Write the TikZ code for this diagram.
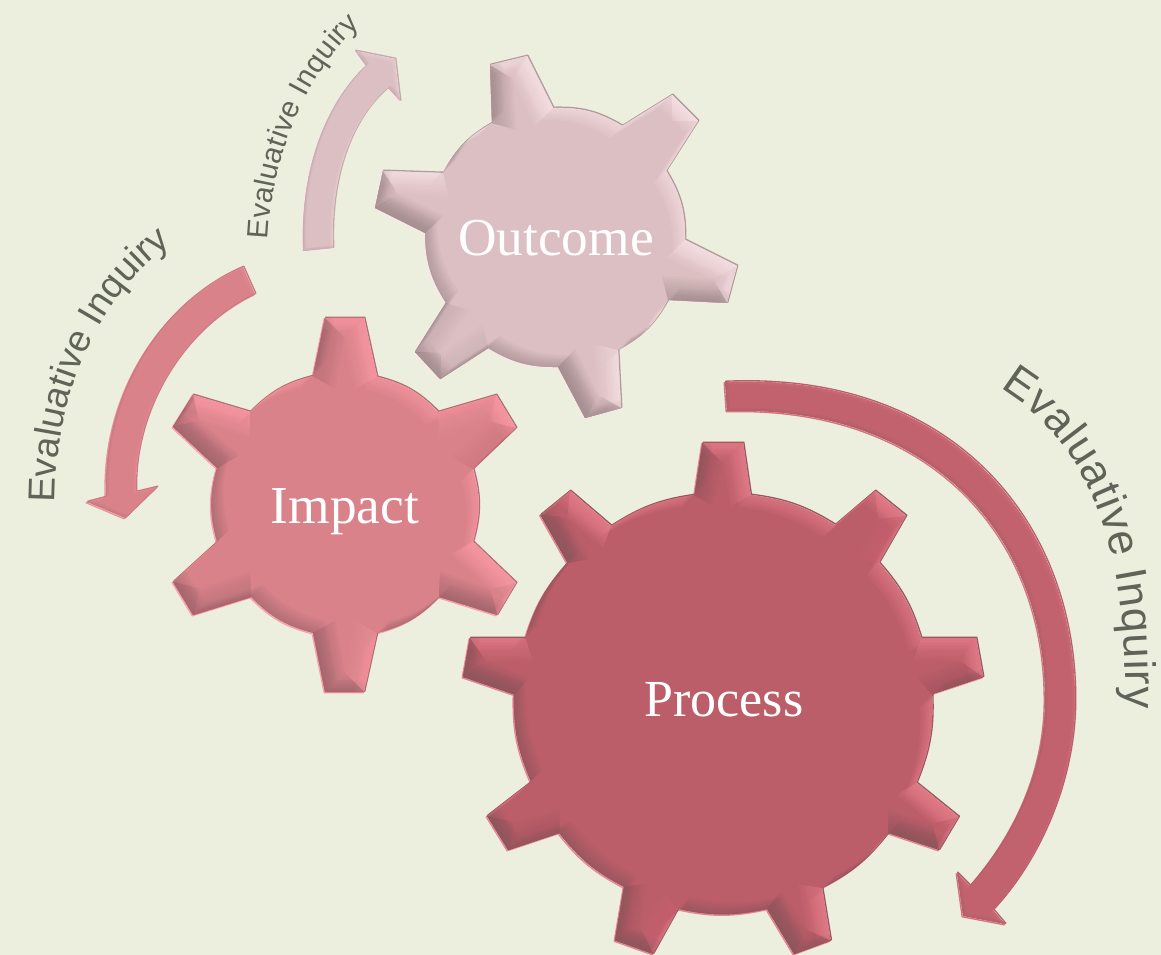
\documentclass[tikz,border=0pt]{standalone}
\usepackage{fontspec}
\setmainfont{Liberation Serif}
\newfontfamily\arrowfont{Liberation Sans}
\usetikzlibrary{decorations.text,calc}
\definecolor{bgc}{HTML}{ECEFDE}
\definecolor{txc}{HTML}{5F6358}
\definecolor{oFace}{HTML}{DCBFC2}\definecolor{oLight}{HTML}{FBE6E9}\definecolor{oDark}{HTML}{A08A8C}
\definecolor{iFace}{HTML}{D9828A}\definecolor{iLight}{HTML}{FF9DA8}\definecolor{iDark}{HTML}{A0666C}
\definecolor{pFace}{HTML}{BC5E69}\definecolor{pLight}{HTML}{EC8290}\definecolor{pDark}{HTML}{8A565C}
\definecolor{aFace}{HTML}{C2626E}
\tikzset{gearlabel/.style={text=white,inner sep=0pt,font=\fontsize{40pt}{44pt}\selectfont}}
\def\gearO{(492,123) -- (490,65) -- (527,56) -- (553,108) to[bend left=16] (622,126) -- (672,95) -- (698,121) -- (666,171) to[bend left=16] (685,240) -- (737,266) -- (727,303) -- (668,300) to[bend left=16] (618,350) -- (621,408) -- (585,418) -- (558,367) to[bend left=16] (488,348) -- (440,379) -- (415,352) -- (446,303) to[bend left=16] (425,233) -- (375,208) -- (383,171) -- (443,173) to[bend left=16] cycle}
\def\gearI{(313,376) -- (325,318) -- (364,318) -- (377,377) to[bend left=15.5] (438,412) -- (496,395) -- (516,428) -- (473,469) to[bend left=15.5] (473,542) -- (516,583) -- (497,615) -- (439,597) to[bend left=15.5] (377,633) -- (364,692) -- (325,692) -- (313,633) to[bend left=15.5] (251,597) -- (193,615) -- (173,582) -- (217,542) to[bend left=15.5] (217,468) -- (173,427) -- (193,395) -- (250,412) to[bend left=15.5] cycle}
\def\gearP{(694.5,495) -- (702.5,443) -- (743,443) -- (750.6,495) to[bend left=12.2] (835,525) -- (875,491) -- (906,516) -- (879,563) to[bend left=12.2] (921,638) -- (976,638) -- (983,677) -- (932,694) to[bend left=12.2] (916.5,783) -- (958.6,817) -- (939,850) -- (888.4,833) to[bend left=12.2] (822,888) -- (830.6,940.5) -- (794,954) -- (767,909) to[bend left=12.2] (678,909) -- (653,954) -- (615,940.5) -- (624,887) to[bend left=12.2] (559,833) -- (508,850) -- (487,816) -- (531,782) to[bend left=12.2] (514,694.5) -- (463,677) -- (470,638) -- (525.4,638) to[bend left=12.2] (567.5,563) -- (540.5,515) -- (570,491) -- (611,526) to[bend left=12.2] cycle}
\def\arrowP{(725,382) .. controls (954,372) and (1075,524) .. (1075,700) .. controls (1075,780) and (1040,860) .. (993,910) -- (1005,924) -- (963,916) -- (957,873) -- (970,886) .. controls (1015,835) and (1045,770) .. (1045,700) .. controls (1045,530) and (925,405) .. (727,411) -- cycle}
\def\arrowI{(243,267) .. controls (165,300) and (102,390) .. (106,497) -- (87,502) -- (125,518) -- (157,487) -- (136,492) .. controls (133,415) and (180,330) .. (255,294) -- cycle}
\def\arrowO{(303,251) .. controls (300,170) and (325,105) .. (366,66) -- (355,51) -- (395,59) -- (400,101) -- (388,88) .. controls (350,120) and (330,180) .. (333,248) -- cycle}
% #1 path, #2 face, #3 light, #4 dark, #5 steps, #6 opacity
\newcommand\embossed[6]{%
  \begin{scope}
    \clip #1;
    \fill[#2] (-200,-200) rectangle (1400,1200);
    \foreach \dd in {#5}{%
      \begin{scope}[shift={(-\dd,\dd)}]
        \fill[#3,fill opacity=#6,even odd rule] (-400,-400) rectangle (1600,1400) #1;
      \end{scope}
      \begin{scope}[shift={(\dd,-\dd)}]
        \fill[#4,fill opacity=#6,even odd rule] (-400,-400) rectangle (1600,1400) #1;
      \end{scope}
    }
  \end{scope}}
% #1 path, #2 upper-right rim, #3 lower-left rim
\newcommand\rimmed[3]{%
  \begin{scope}[shift={(-0.8,0.8)}]\draw[#3,line width=1pt,line join=round] #1;\end{scope}
  \begin{scope}[shift={(0.8,-0.8)}]\draw[#2,line width=1pt,line join=round] #1;\end{scope}}
% one bevel facet: outer edge (#1,#2)-(#3,#4), inner end (#5,#6) next to the second point, (#7,#8) next to the first
\newcommand\facet[8]{%
  \pgfmathsetmacro\sval{((#3-#1)+(#4-#2))/(1.414*veclen(#3-#1,#4-#2))}%
  \pgfmathsetmacro\opv{abs(\sval)*\curK}%
  \pgfmathparse{\sval>0?1:0}%
  \ifnum\pgfmathresult=1 \edef\facecol{\curL}\else\edef\facecol{\curD}\fi
  \foreach \ff in {0.12,0.24,0.36,0.48,0.6,0.7,0.8,0.9,1}{%
    \fill[\facecol,fill opacity=\opv] (#1,#2) -- (#3,#4) -- ({#3+\ff*(#5-#3)},{#4+\ff*(#6-#4)}) -- ({#1+\ff*(#7-#1)},{#2+\ff*(#8-#2)}) -- cycle;
  }}
% teeth facets: list of base-left / tip-a / tip-b / base-right
\newcommand\teeth[4]{%
  \def\curL{#1}\def\curD{#2}\def\curK{#3}%
  \foreach \ax/\ay/\bx/\by/\cx/\cy/\ex/\ey in {#4}{%
    \pgfmathsetmacro\apx{(\bx+\cx)/2-(\cy-\by)/2}%
    \pgfmathsetmacro\apy{(\by+\cy)/2+(\cx-\bx)/2}%
    \pgfmathsetmacro\mlx{\ax+0.35*(\ex-\ax)-0.2*(\ey-\ay)}%
    \pgfmathsetmacro\mly{\ay+0.35*(\ey-\ay)+0.2*(\ex-\ax)}%
    \pgfmathsetmacro\mrx{\ex-0.35*(\ex-\ax)-0.2*(\ey-\ay)}%
    \pgfmathsetmacro\mry{\ey-0.35*(\ey-\ay)+0.2*(\ex-\ax)}%
    \facet{\ax}{\ay}{\bx}{\by}{\apx}{\apy}{\mlx}{\mly}%
    \facet{\bx}{\by}{\cx}{\cy}{\apx}{\apy}{\apx}{\apy}%
    \facet{\cx}{\cy}{\ex}{\ey}{\mrx}{\mry}{\apx}{\apy}%
  }}
\begin{document}
\begin{tikzpicture}[x=0.75pt,y=-0.75pt]
\useasboundingbox (0,0) rectangle (1161,955);
\fill[bgc] (0,0) rectangle (1161,955);
% arrows
\rimmed{\arrowO}{oDark!40!oFace}{oLight}
\embossed{\arrowO}{oFace}{oLight}{oDark}{1,2,3}{0.1}
\rimmed{\arrowI}{iDark!30!iFace}{iLight!50!iFace}
\embossed{\arrowI}{iFace}{iLight}{iDark}{1,2,3}{0.08}
\rimmed{\arrowP}{pDark!20!aFace}{pLight!50!aFace}
\embossed{\arrowP}{aFace}{pLight}{pDark}{1,2,3}{0.08}
% gears
\rimmed{\gearO}{oDark!70!oFace}{oLight}
\embossed{\gearO}{oFace}{oLight}{oDark}{1,2,3.5,5,6.5,8,10,12}{0.11}
\teeth{oLight}{oDark}{0.1}{492/123/490/65/527/56/553/108, 622/126/672/95/698/121/666/171, 685/240/737/266/727/303/668/300, 618/350/621/408/585/418/558/367, 488/348/440/379/415/352/446/303, 425/233/375/208/383/171/443/173}
\rimmed{\gearI}{iDark!70!iFace}{iLight}
\embossed{\gearI}{iFace}{iLight}{iDark}{1,2,3.5,5,6.5,8,10,12}{0.11}
\teeth{iLight}{iDark}{0.1}{313/376/325/318/364/318/377/377, 438/412/496/395/516/428/473/469, 473/542/516/583/497/615/439/597, 377/633/364/692/325/692/313/633, 251/597/193/615/173/582/217/542, 217/468/173/427/193/395/250/412}
\rimmed{\gearP}{pDark!70!pFace}{pLight}
\embossed{\gearP}{pFace}{pLight}{pDark}{1,2,3.5,5,6.5,8,10,12}{0.11}
\teeth{pLight}{pDark}{0.1}{694.5/495/702.5/443/743/443/750.6/495, 835/525/875/491/906/516/879/563, 921/638/976/638/983/677/932/694, 916.5/783/958.6/817/939/850/888.4/833, 822/888/830.6/940.5/794/954/767/909, 678/909/653/954/615/940.5/624/887, 559/833/508/850/487/816/531/782, 514/694.5/463/677/470/638/525.4/638, 567.5/563/540.5/515/570/491/611/526}
% labels
\node[gearlabel] (outcome) at (556,238) {Outcome};
\node[gearlabel] (impact) at (345,512) {Impact};
\node[gearlabel,font=\fontsize{39pt}{44pt}\selectfont] (process) at (724,700) {Process};
% curved captions
\path[decorate,decoration={text along path,text align=fit to path,text={|\arrowfont\fontsize{22pt}{24pt}\selectfont\color{txc}|Evaluative Inquiry}}] (268,240) .. controls (272,150) and (310,70) .. (360,25);
\path[decorate,decoration={text along path,text align=fit to path,text={|\arrowfont\fontsize{28pt}{30pt}\selectfont\color{txc}|Evaluative Inquiry}}] (55,503) .. controls (55,400) and (95,300) .. (170,245);
\path[decorate,decoration={text along path,text align=fit to path,text={|\arrowfont\fontsize{33pt}{38pt}\selectfont\color{txc}|Evaluative Inquiry}}] (1000,388) .. controls (1078,435) and (1130,530) .. (1125,708);
\end{tikzpicture}
\end{document}
